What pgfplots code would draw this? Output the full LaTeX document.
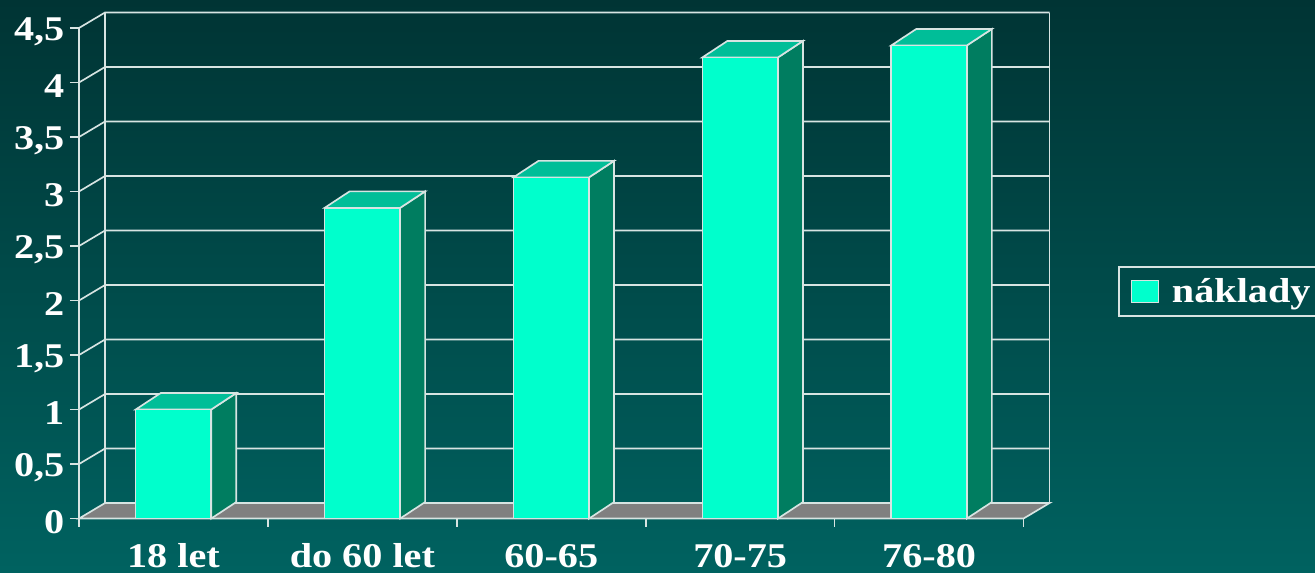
\documentclass[border=0pt]{standalone}
\usepackage{fontspec}
\setmainfont{Liberation Serif}[FakeStretch=1.16]
\usepackage{pgfplots}
\pgfplotsset{compat=1.18}
\definecolor{BgTop}{RGB}{0,52,52}
\definecolor{BgBottom}{RGB}{0,98,96}
\definecolor{Front}{RGB}{0,255,204}
\definecolor{TopFace}{RGB}{0,190,152}
\definecolor{SideFace}{RGB}{0,125,96}
\definecolor{Floor}{RGB}{128,128,128}
\definecolor{Rule}{RGB}{215,228,226}
% depth of the wall and of the bars, in data units
\def\wdx{0.1376}\def\wdy{0.142}
\def\bdx{0.1323}\def\bdy{0.151}
\def\hw{0.2}
\newcommand{\gridrow}[1]{%
  \pgfmathsetmacro\xa{-0.5+\wdx}\pgfmathsetmacro\xb{4.5+\wdx}\pgfmathsetmacro\yb{#1+\wdy}%
  \addplot[Rule, line width=1.25pt, forget plot] coordinates {(-0.5,#1) (\xa,\yb) (\xb,\yb)};%
}
\newcommand{\barfaces}[2]{%
  \pgfmathsetmacro\xa{#1-\hw}\pgfmathsetmacro\xb{#1+\hw}%
  \pgfmathsetmacro\xc{#1-\hw+\bdx}\pgfmathsetmacro\xd{#1+\hw+\bdx}%
  \pgfmathsetmacro\yb{#2+\bdy}%
  \addplot[fill=SideFace, draw=Rule, line width=1.25pt, forget plot]
    coordinates {(\xb,0) (\xd,\bdy) (\xd,\yb) (\xb,#2)} -- cycle;
  \addplot[fill=TopFace, draw=Rule, line width=1.25pt, forget plot]
    coordinates {(\xa,#2) (\xc,\yb) (\xd,\yb) (\xb,#2)} -- cycle;
}
\begin{document}
\begin{tikzpicture}
\path[use as bounding box] (0,0) rectangle (986.25pt,429pt);
\shade[top color=BgTop, bottom color=BgBottom] (0,0) rectangle (986.25pt,429pt);
\begin{axis}[
    at={(59.25pt,40.1pt)}, anchor=south west,
    scale only axis, width=708.4pt, height=367.9pt,
    xmin=-0.5, xmax=4.5, ymin=0, ymax=4.5,
    clip=false,
    axis lines*=left,
    axis line style={Rule, line width=1.25pt},
    tick align=outside,
    major tick length=6.8pt, minor tick length=6pt,
    tick style={Rule, line width=1.25pt},
    major x tick style={draw=none},
    xtick={0,1,2,3,4},
    xticklabels={18 let, do 60 let, 60-65, 70-75, 76-80},
    minor xtick={-0.5,0.5,1.5,2.5,3.5,4.5},
    ytick={0,0.5,1,1.5,2,2.5,3,3.5,4,4.5},
    /pgf/number format/assume math mode=true,
    /pgf/number format/use comma,
    yticklabel style={font=\fontsize{26}{26}\selectfont\bfseries, text=white, yshift=-2.5pt, inner sep=0pt, xshift=-4pt},
    xticklabel style={font=\fontsize{26}{26}\selectfont\bfseries, text=white, anchor=north, inner sep=0pt, text height=17.6pt, text depth=0pt, yshift=-12pt},
    legend style={at={(rel axis cs:1.1001,0.4628)}, anchor=west, draw=Rule, line width=1.25pt,
      fill=none, text=white, font=\fontsize{26}{26}\selectfont\bfseries,
      inner xsep=9pt, inner ysep=6.5pt, row sep=0pt, legend cell align=left,
      /tikz/every odd column/.append style={column sep=8pt}},
]
% back wall and floor
\pgfmathsetmacro\xa{-0.5+\wdx}\pgfmathsetmacro\xb{4.5+\wdx}\pgfmathsetmacro\yb{4.5+\wdy}
\addplot[fill=Floor, draw=Rule, line width=1.25pt, forget plot]
  coordinates {(-0.5,0) (\xa,\wdy) (\xb,\wdy) (4.5,0)} -- cycle;
\addplot[Rule, line width=1.25pt, forget plot] coordinates {(\xa,\wdy) (\xa,\yb)};
\addplot[Rule, line width=1.25pt, forget plot] coordinates {(\xb,\wdy) (\xb,\yb)};
\gridrow{0.5}\gridrow{1}\gridrow{1.5}\gridrow{2}\gridrow{2.5}
\gridrow{3}\gridrow{3.5}\gridrow{4}\gridrow{4.5}
% bars
\barfaces{0}{1}
\barfaces{1}{2.85}
\barfaces{2}{3.13}
\barfaces{3}{4.23}
\barfaces{4}{4.34}
\addplot[ybar, bar width=56.7pt, fill=Front, draw=Rule, line width=1.25pt, forget plot]
  coordinates {(0,1) (1,2.85) (2,3.13) (3,4.23) (4,4.34)};
\addlegendimage{legend image code/.code={\draw[fill=Front, draw=Rule, line width=0.8pt] (0pt,-8.5pt) rectangle (20pt,8.5pt);}}
\addlegendentry{náklady}
\end{axis}
\end{tikzpicture}
\end{document}
